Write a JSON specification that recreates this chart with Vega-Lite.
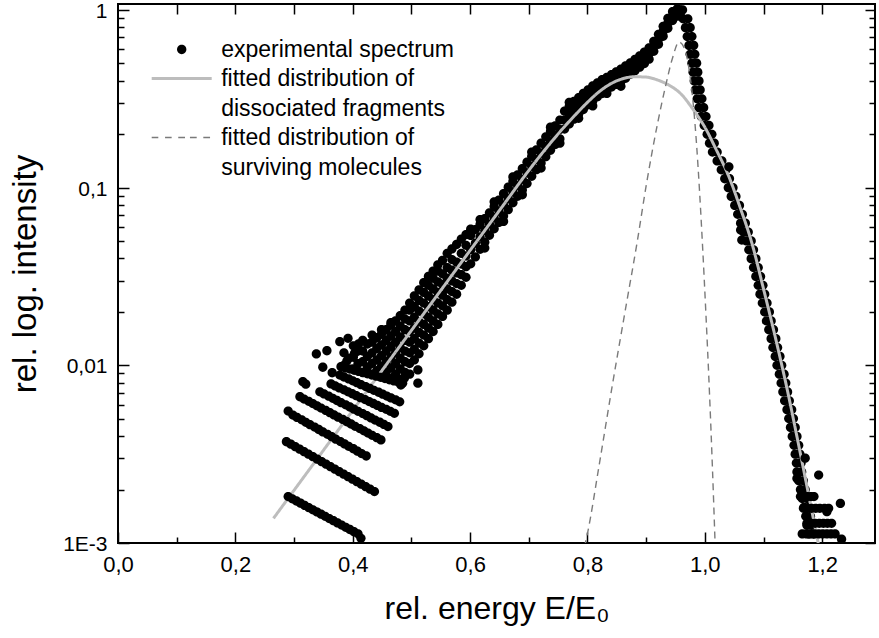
{
  "$schema": "https://vega.github.io/schema/vega-lite/v6.json",
  "width": 757,
  "height": 539,
  "autosize": {"type": "none"},
  "padding": {"left": 118, "top": 4, "right": 4, "bottom": 95},
  "background": "white",
  "config": {
    "font": "Liberation Sans",
    "view": {"stroke": "black", "strokeWidth": 2},
    "style": {"guide-label": {"lineHeight": 30}},
    "axis": {"domain": false, "grid": false, "tickColor": "black", "tickWidth": 1.5, "labelColor": "black", "labelFont": "Liberation Sans", "labelFontSize": 22, "titleFont": "Liberation Sans", "titleFontWeight": "normal", "titleColor": "black", "titleFontSize": 32, "labelFlush": false, "labelOverlap": false}
  },
  "datasets": {
    "band": [
      {"x":0.385,"y":0.01},{"x":0.385,"y":0.01175},
      {"x":0.393,"y":0.01096},
      {"x":0.401,"y":0.00955},{"x":0.401,"y":0.01109},{"x":0.401,"y":0.01288},
      {"x":0.409,"y":0.01023},{"x":0.409,"y":0.01202},
      {"x":0.417,"y":0.00912},{"x":0.417,"y":0.01047},{"x":0.417,"y":0.01202},{"x":0.417,"y":0.0138},
      {"x":0.425,"y":0.00977},{"x":0.425,"y":0.01122},{"x":0.425,"y":0.01318},
      {"x":0.433,"y":0.00891},{"x":0.433,"y":0.01023},{"x":0.433,"y":0.01175},{"x":0.433,"y":0.01349},{"x":0.433,"y":0.01479},
      {"x":0.441,"y":0.00933},{"x":0.441,"y":0.01072},{"x":0.441,"y":0.01245},{"x":0.441,"y":0.01429},
      {"x":0.449,"y":0.00861},{"x":0.449,"y":0.00989},{"x":0.449,"y":0.01135},{"x":0.449,"y":0.01303},{"x":0.449,"y":0.01496},{"x":0.449,"y":0.01585},
      {"x":0.457,"y":0.00912},{"x":0.457,"y":0.01047},{"x":0.457,"y":0.01202},{"x":0.457,"y":0.0138},{"x":0.457,"y":0.01585},
      {"x":0.465,"y":0.00841},{"x":0.465,"y":0.00966},{"x":0.465,"y":0.01109},{"x":0.465,"y":0.01274},{"x":0.465,"y":0.01462},{"x":0.465,"y":0.01679},{"x":0.465,"y":0.01738},
      {"x":0.473,"y":0.00891},{"x":0.473,"y":0.01023},{"x":0.473,"y":0.01175},{"x":0.473,"y":0.01349},{"x":0.473,"y":0.01549},{"x":0.473,"y":0.01778},
      {"x":0.481,"y":0.00832},{"x":0.481,"y":0.00955},{"x":0.481,"y":0.01096},{"x":0.481,"y":0.01259},{"x":0.481,"y":0.01445},{"x":0.481,"y":0.0166},{"x":0.481,"y":0.01905},
      {"x":0.489,"y":0.00912},{"x":0.489,"y":0.01047},{"x":0.489,"y":0.01202},{"x":0.489,"y":0.0138},{"x":0.489,"y":0.01585},{"x":0.489,"y":0.0182},{"x":0.489,"y":0.02042},
      {"x":0.497,"y":0.00891},{"x":0.497,"y":0.01023},{"x":0.497,"y":0.01175},{"x":0.497,"y":0.01349},{"x":0.497,"y":0.01549},{"x":0.497,"y":0.01778},{"x":0.497,"y":0.02042},{"x":0.497,"y":0.02239},
      {"x":0.505,"y":0.01072},{"x":0.505,"y":0.0123},{"x":0.505,"y":0.01413},{"x":0.505,"y":0.01622},{"x":0.505,"y":0.01862},{"x":0.505,"y":0.02138},{"x":0.505,"y":0.02455},
      {"x":0.513,"y":0.01161},{"x":0.513,"y":0.01334},{"x":0.513,"y":0.01531},{"x":0.513,"y":0.01758},{"x":0.513,"y":0.02018},{"x":0.513,"y":0.02317},{"x":0.513,"y":0.02661},
      {"x":0.521,"y":0.01288},{"x":0.521,"y":0.01479},{"x":0.521,"y":0.01698},{"x":0.521,"y":0.0195},{"x":0.521,"y":0.02239},{"x":0.521,"y":0.0257},{"x":0.521,"y":0.02917},
      {"x":0.529,"y":0.01413},{"x":0.529,"y":0.01622},{"x":0.529,"y":0.01862},{"x":0.529,"y":0.02138},{"x":0.529,"y":0.02455},{"x":0.529,"y":0.02818},{"x":0.529,"y":0.03162},
      {"x":0.537,"y":0.01549},{"x":0.537,"y":0.01778},{"x":0.537,"y":0.02042},{"x":0.537,"y":0.02344},{"x":0.537,"y":0.02692},{"x":0.537,"y":0.0309},{"x":0.537,"y":0.03388},
      {"x":0.545,"y":0.01698},{"x":0.545,"y":0.0195},{"x":0.545,"y":0.02239},{"x":0.545,"y":0.0257},{"x":0.545,"y":0.02951},{"x":0.545,"y":0.03388},{"x":0.545,"y":0.03673},
      {"x":0.553,"y":0.01884},{"x":0.553,"y":0.02163},{"x":0.553,"y":0.02483},{"x":0.553,"y":0.02851},{"x":0.553,"y":0.03273},{"x":0.553,"y":0.0389},
      {"x":0.561,"y":0.02042},{"x":0.561,"y":0.02344},{"x":0.561,"y":0.02692},{"x":0.561,"y":0.0309},{"x":0.561,"y":0.03548},{"x":0.561,"y":0.04266},
      {"x":0.569,"y":0.02265},{"x":0.569,"y":0.026},{"x":0.569,"y":0.02985},{"x":0.569,"y":0.03428},{"x":0.569,"y":0.03936},{"x":0.569,"y":0.04519},
      {"x":0.577,"y":0.02512},{"x":0.577,"y":0.02884},{"x":0.577,"y":0.03311},{"x":0.577,"y":0.03802},{"x":0.577,"y":0.04786},
      {"x":0.585,"y":0.02818},{"x":0.585,"y":0.03236},{"x":0.585,"y":0.03715},{"x":0.585,"y":0.04266},{"x":0.585,"y":0.05129},
      {"x":0.593,"y":0.03126},{"x":0.593,"y":0.03589},{"x":0.593,"y":0.04121},{"x":0.593,"y":0.04732},{"x":0.593,"y":0.05433},
      {"x":0.601,"y":0.03724},{"x":0.601,"y":0.04477},{"x":0.601,"y":0.05383},{"x":0.601,"y":0.05834},
      {"x":0.609,"y":0.04074},{"x":0.609,"y":0.04864},{"x":0.609,"y":0.05808},
      {"x":0.617,"y":0.04498},{"x":0.617,"y":0.05284},{"x":0.617,"y":0.06209},{"x":0.617,"y":0.06607},
      {"x":0.625,"y":0.04932},{"x":0.625,"y":0.05741},{"x":0.625,"y":0.06683},{"x":0.625,"y":0.04571},
      {"x":0.633,"y":0.05395},{"x":0.633,"y":0.06237},{"x":0.633,"y":0.07211},
      {"x":0.641,"y":0.05861},{"x":0.641,"y":0.06776},{"x":0.641,"y":0.07834},{"x":0.641,"y":0.08318},
      {"x":0.649,"y":0.06368},{"x":0.649,"y":0.07362},{"x":0.649,"y":0.08511},
      {"x":0.657,"y":0.06918},{"x":0.657,"y":0.07998},{"x":0.657,"y":0.09247},{"x":0.657,"y":0.06457},
      {"x":0.665,"y":0.07516},{"x":0.665,"y":0.0869},{"x":0.665,"y":0.1005},
      {"x":0.673,"y":0.08222},{"x":0.673,"y":0.09441},{"x":0.673,"y":0.1084},{"x":0.673,"y":0.1148},
      {"x":0.681,"y":0.08933},{"x":0.681,"y":0.1026},{"x":0.681,"y":0.1178},
      {"x":0.689,"y":0.09705},{"x":0.689,"y":0.1114},{"x":0.689,"y":0.1279},{"x":0.689,"y":0.0912},
      {"x":0.697,"y":0.1054},{"x":0.697,"y":0.1211},{"x":0.697,"y":0.139},
      {"x":0.705,"y":0.1159},{"x":0.705,"y":0.1318},{"x":0.705,"y":0.15},{"x":0.705,"y":0.1585},
      {"x":0.713,"y":0.1262},{"x":0.713,"y":0.1435},{"x":0.713,"y":0.1633},
      {"x":0.721,"y":0.1374},{"x":0.721,"y":0.1563},{"x":0.721,"y":0.1778},{"x":0.721,"y":0.1288},
      {"x":0.729,"y":0.1493},{"x":0.729,"y":0.1698},{"x":0.729,"y":0.1932},
      {"x":0.737,"y":0.1622},{"x":0.737,"y":0.1832},{"x":0.737,"y":0.207},{"x":0.737,"y":0.2188},
      {"x":0.745,"y":0.1746},{"x":0.745,"y":0.1972},{"x":0.745,"y":0.2228},
      {"x":0.753,"y":0.1879},{"x":0.753,"y":0.2123},{"x":0.753,"y":0.2399},{"x":0.753,"y":0.1778},
      {"x":0.761,"y":0.2138},{"x":0.761,"y":0.2399},{"x":0.761,"y":0.2692},
      {"x":0.769,"y":0.228},{"x":0.769,"y":0.2559},{"x":0.769,"y":0.2871},{"x":0.769,"y":0.302},
      {"x":0.777,"y":0.2427},{"x":0.777,"y":0.2723},{"x":0.777,"y":0.3055},
      {"x":0.785,"y":0.2594},{"x":0.785,"y":0.2884},{"x":0.785,"y":0.3206},{"x":0.785,"y":0.2455},
      {"x":0.793,"y":0.2748},{"x":0.793,"y":0.3055},{"x":0.793,"y":0.3396},
      {"x":0.801,"y":0.2924},{"x":0.801,"y":0.3221},{"x":0.801,"y":0.3548},
      {"x":0.809,"y":0.3076},{"x":0.809,"y":0.3388},{"x":0.809,"y":0.3733},{"x":0.809,"y":0.2884},
      {"x":0.817,"y":0.3243},{"x":0.817,"y":0.3548},{"x":0.817,"y":0.3882},
      {"x":0.825,"y":0.3381},{"x":0.825,"y":0.3698},{"x":0.825,"y":0.4046},
      {"x":0.833,"y":0.3548},{"x":0.833,"y":0.3846},{"x":0.833,"y":0.4169},{"x":0.833,"y":0.3388},
      {"x":0.841,"y":0.3681},{"x":0.841,"y":0.399},{"x":0.841,"y":0.4325},
      {"x":0.849,"y":0.3811},{"x":0.849,"y":0.413},{"x":0.849,"y":0.4477},
      {"x":0.857,"y":0.3954},{"x":0.857,"y":0.4285},{"x":0.857,"y":0.4645},{"x":0.857,"y":0.3715},
      {"x":0.865,"y":0.4121},{"x":0.865,"y":0.4467},{"x":0.865,"y":0.4842},
      {"x":0.873,"y":0.4345},{"x":0.873,"y":0.4677},{"x":0.873,"y":0.5035},
      {"x":0.881,"y":0.455},{"x":0.881,"y":0.4898},{"x":0.881,"y":0.5272},
      {"x":0.889,"y":0.4764},{"x":0.889,"y":0.5129},{"x":0.889,"y":0.5521},
      {"x":0.897,"y":0.4989},{"x":0.897,"y":0.537},{"x":0.897,"y":0.5781},
      {"x":0.905,"y":0.5284},{"x":0.905,"y":0.5689},{"x":0.905,"y":0.6124},
      {"x":0.913,"y":0.5848},{"x":0.913,"y":0.6237},{"x":0.913,"y":0.6653},
      {"x":0.921,"y":0.6412},{"x":0.921,"y":0.6839},{"x":0.921,"y":0.7295},
      {"x":0.929,"y":0.7112},{"x":0.929,"y":0.7586},{"x":0.929,"y":0.8091},
      {"x":0.937,"y":0.7889},{"x":0.937,"y":0.8414},{"x":0.937,"y":0.8974},
      {"x":0.945,"y":0.871},{"x":0.945,"y":0.9226},{"x":0.945,"y":0.9772},
      {"x":0.953,"y":0.9226},{"x":0.953,"y":0.9772},{"x":0.953,"y":1.012},
      {"x":0.958,"y":1.0},{"x":0.958,"y":0.9333},
      {"x":0.954,"y":1.0},{"x":0.962,"y":1.0},
      {"x":0.963,"y":0.8913},{"x":0.971,"y":0.8913},
      {"x":0.967,"y":0.7943},{"x":0.975,"y":0.7943},
      {"x":0.970,"y":0.7079},{"x":0.978,"y":0.7079},
      {"x":0.973,"y":0.631},{"x":0.981,"y":0.631},
      {"x":0.975,"y":0.5623},{"x":0.983,"y":0.5623},
      {"x":0.978,"y":0.5012},{"x":0.986,"y":0.5012},
      {"x":0.980,"y":0.4467},{"x":0.988,"y":0.4467},
      {"x":0.982,"y":0.3981},{"x":0.990,"y":0.3981},
      {"x":0.984,"y":0.3548},{"x":0.992,"y":0.3548},
      {"x":0.987,"y":0.3162},{"x":0.995,"y":0.3162},
      {"x":0.990,"y":0.2818},{"x":0.998,"y":0.2818},
      {"x":0.994,"y":0.2512},{"x":1.002,"y":0.2512},
      {"x":0.999,"y":0.2239},{"x":1.007,"y":0.2239},
      {"x":1.004,"y":0.1995},{"x":1.012,"y":0.1995},
      {"x":1.008,"y":0.1778},{"x":1.016,"y":0.1778},
      {"x":1.013,"y":0.1585},{"x":1.021,"y":0.1585},
      {"x":1.021,"y":0.1413},{"x":1.029,"y":0.1413},
      {"x":1.028,"y":0.1259},{"x":1.036,"y":0.1259},
      {"x":1.034,"y":0.1122},{"x":1.042,"y":0.1122},
      {"x":1.040,"y":0.1},{"x":1.048,"y":0.1},
      {"x":1.045,"y":0.08913},{"x":1.053,"y":0.08913},
      {"x":1.051,"y":0.07943},{"x":1.059,"y":0.07943},
      {"x":1.056,"y":0.07079},{"x":1.064,"y":0.07079},
      {"x":1.061,"y":0.0631},{"x":1.069,"y":0.0631},
      {"x":1.066,"y":0.05623},{"x":1.074,"y":0.05623},
      {"x":1.071,"y":0.05012},{"x":1.079,"y":0.05012},
      {"x":1.075,"y":0.04467},{"x":1.083,"y":0.04467},
      {"x":1.079,"y":0.03981},{"x":1.087,"y":0.03981},
      {"x":1.083,"y":0.03548},{"x":1.091,"y":0.03548},
      {"x":1.087,"y":0.03162},{"x":1.095,"y":0.03162},
      {"x":1.091,"y":0.02818},{"x":1.099,"y":0.02818},
      {"x":1.094,"y":0.02512},{"x":1.102,"y":0.02512},
      {"x":1.098,"y":0.02239},{"x":1.106,"y":0.02239},
      {"x":1.102,"y":0.01995},{"x":1.110,"y":0.01995},
      {"x":1.105,"y":0.01778},{"x":1.113,"y":0.01778},
      {"x":1.109,"y":0.01585},{"x":1.117,"y":0.01585},
      {"x":1.113,"y":0.01413},{"x":1.121,"y":0.01413},
      {"x":1.116,"y":0.01259},{"x":1.124,"y":0.01259},
      {"x":1.120,"y":0.01122},{"x":1.128,"y":0.01122},
      {"x":1.123,"y":0.01},{"x":1.131,"y":0.01},
      {"x":1.127,"y":0.008913},{"x":1.135,"y":0.008913},
      {"x":1.130,"y":0.007943},{"x":1.138,"y":0.007943},
      {"x":1.133,"y":0.007079},{"x":1.141,"y":0.007079},
      {"x":1.136,"y":0.00631},{"x":1.144,"y":0.00631},
      {"x":1.140,"y":0.005623},{"x":1.148,"y":0.005623},
      {"x":1.143,"y":0.005012},{"x":1.151,"y":0.005012},
      {"x":1.146,"y":0.004467},{"x":1.154,"y":0.004467},
      {"x":1.149,"y":0.003981},{"x":1.157,"y":0.003981},
      {"x":1.152,"y":0.003548},{"x":1.160,"y":0.003548},
      {"x":1.154,"y":0.003162},{"x":1.162,"y":0.003162},
      {"x":1.156,"y":0.002818},{"x":1.164,"y":0.002818},
      {"x":1.157,"y":0.002512},{"x":1.165,"y":0.002512},
      {"x":1.160,"y":0.002239},{"x":1.168,"y":0.002239},
      {"x":1.163,"y":0.001995},{"x":1.171,"y":0.001995},
      {"x":1.166,"y":0.001778},{"x":1.174,"y":0.001778},
      {"x":1.169,"y":0.001585},{"x":1.177,"y":0.001585},
      {"x":1.172,"y":0.001413},{"x":1.180,"y":0.001413},
      {"x":1.174,"y":0.001259},{"x":1.182,"y":0.001259},
      {"x":1.177,"y":0.001122},{"x":1.185,"y":0.001122}
    ],
    "streaks": [
      {"x":0.290,"y":0.001824},{"x":0.297,"y":0.001773},{"x":0.304,"y":0.001723},{"x":0.311,"y":0.001675},{"x":0.318,"y":0.001628},{"x":0.325,"y":0.001583},{"x":0.332,"y":0.001538},{"x":0.339,"y":0.001495},{"x":0.346,"y":0.001453},{"x":0.353,"y":0.001413},{"x":0.360,"y":0.001373},{"x":0.367,"y":0.001335},{"x":0.374,"y":0.001297},{"x":0.381,"y":0.001261},{"x":0.388,"y":0.001226},{"x":0.395,"y":0.001191},{"x":0.402,"y":0.001158},{"x":0.409,"y":0.001126},{"x":0.414,"y":0.001062},
      {"x":0.287,"y":0.003715},{"x":0.2945,"y":0.003597},{"x":0.302,"y":0.003483},{"x":0.3095,"y":0.003372},{"x":0.317,"y":0.003265},{"x":0.3245,"y":0.003161},{"x":0.332,"y":0.00306},{"x":0.3395,"y":0.002963},{"x":0.347,"y":0.002869},{"x":0.3545,"y":0.002777},{"x":0.362,"y":0.002689},{"x":0.3695,"y":0.002603},{"x":0.377,"y":0.002521},{"x":0.3845,"y":0.00244},{"x":0.392,"y":0.002363},{"x":0.3995,"y":0.002288},{"x":0.407,"y":0.002215},{"x":0.4145,"y":0.002144},{"x":0.422,"y":0.002076},{"x":0.4295,"y":0.00201},{"x":0.437,"y":0.001946},
      {"x":0.298,"y":0.005248},{"x":0.305,"y":0.005087},{"x":0.313,"y":0.004931},{"x":0.320,"y":0.004779},{"x":0.327,"y":0.004633},{"x":0.335,"y":0.00449},{"x":0.342,"y":0.004352},{"x":0.349,"y":0.004219},{"x":0.357,"y":0.004089},{"x":0.364,"y":0.003964},{"x":0.371,"y":0.003842},{"x":0.379,"y":0.003724},{"x":0.386,"y":0.00361},{"x":0.393,"y":0.003499},{"x":0.401,"y":0.003391},{"x":0.408,"y":0.003287},{"x":0.415,"y":0.003186},{"x":0.423,"y":0.003088},
      {"x":0.310,"y":0.006653},{"x":0.317,"y":0.00646},{"x":0.325,"y":0.006273},{"x":0.332,"y":0.006091},{"x":0.339,"y":0.005914},{"x":0.346,"y":0.005743},{"x":0.354,"y":0.005576},{"x":0.361,"y":0.005414},{"x":0.368,"y":0.005257},{"x":0.375,"y":0.005105},{"x":0.383,"y":0.004957},{"x":0.390,"y":0.004813},{"x":0.397,"y":0.004673},{"x":0.404,"y":0.004538},{"x":0.412,"y":0.004406},{"x":0.419,"y":0.004278},{"x":0.426,"y":0.004154},{"x":0.433,"y":0.004034},{"x":0.441,"y":0.003917},{"x":0.448,"y":0.003803},
      {"x":0.344,"y":0.007096},{"x":0.351,"y":0.006899},{"x":0.359,"y":0.006707},{"x":0.366,"y":0.006521},{"x":0.373,"y":0.006339},{"x":0.380,"y":0.006163},{"x":0.388,"y":0.005992},{"x":0.395,"y":0.005825},{"x":0.402,"y":0.005663},{"x":0.409,"y":0.005506},{"x":0.417,"y":0.005353},{"x":0.424,"y":0.005204},{"x":0.431,"y":0.005059},{"x":0.438,"y":0.004919},{"x":0.446,"y":0.004782},{"x":0.453,"y":0.004649},{"x":0.460,"y":0.00452},
      {"x":0.363,"y":0.007852},{"x":0.370,"y":0.007656},{"x":0.377,"y":0.007464},{"x":0.385,"y":0.007278},{"x":0.392,"y":0.007096},{"x":0.399,"y":0.006918},{"x":0.406,"y":0.006745},{"x":0.413,"y":0.006577},{"x":0.421,"y":0.006412},{"x":0.428,"y":0.006252},{"x":0.435,"y":0.006096},{"x":0.442,"y":0.005943},{"x":0.449,"y":0.005795},{"x":0.457,"y":0.00565},{"x":0.464,"y":0.005509},{"x":0.471,"y":0.005371},
      {"x":0.378,"y":0.00881},{"x":0.385,"y":0.008595},{"x":0.393,"y":0.008385},{"x":0.400,"y":0.008181},{"x":0.407,"y":0.007981},{"x":0.414,"y":0.007786},{"x":0.422,"y":0.007596},{"x":0.429,"y":0.007411},{"x":0.436,"y":0.00723},{"x":0.444,"y":0.007054},{"x":0.451,"y":0.006882},{"x":0.458,"y":0.006714},{"x":0.465,"y":0.00655},{"x":0.473,"y":0.00639},{"x":0.480,"y":0.006234},
      {"x":0.380,"y":0.009817},{"x":0.3875,"y":0.009668},{"x":0.395,"y":0.009521},{"x":0.4025,"y":0.009376},{"x":0.410,"y":0.009234},{"x":0.4175,"y":0.009093},{"x":0.425,"y":0.008955},{"x":0.4325,"y":0.008819},{"x":0.440,"y":0.008685},{"x":0.4475,"y":0.008553},{"x":0.455,"y":0.008423},{"x":0.4625,"y":0.008295},{"x":0.470,"y":0.008169},{"x":0.4775,"y":0.008045},{"x":0.485,"y":0.007923},
      {"x":0.315,"y":0.00809},{"x":0.320,"y":0.00783},
      {"x":0.338,"y":0.01159},{"x":0.356,"y":0.01208},{"x":0.378,"y":0.01358},{"x":0.392,"y":0.01419},{"x":0.349,"y":0.00975},{"x":0.365,"y":0.00908},{"x":0.410,"y":0.01318},{"x":0.390,"y":0.01057},{"x":0.403,"y":0.01167},{"x":0.290,"y":0.00553},{"x":0.511,"y":0.00942},{"x":0.511,"y":0.00793},{"x":0.488,"y":0.00845},{"x":0.482,"y":0.00774},
      {"x":1.041,"y":0.131},{"x":1.061,"y":0.0577},{"x":1.063,"y":0.0507},{"x":1.171,"y":0.003},{"x":1.157,"y":0.00231},{"x":1.194,"y":0.00241},{"x":1.231,"y":0.00167},{"x":1.233,"y":0.00105},{"x":1.208,"y":0.0015},
      {"x":1.163,"y":0.001824},{"x":1.169,"y":0.001824},{"x":1.175,"y":0.001824},{"x":1.181,"y":0.001824},{"x":1.186,"y":0.001824},
      {"x":1.168,"y":0.001567},{"x":1.175,"y":0.001567},{"x":1.182,"y":0.001567},{"x":1.189,"y":0.001567},{"x":1.196,"y":0.001567},{"x":1.204,"y":0.001567},{"x":1.211,"y":0.001567},
      {"x":1.174,"y":0.001291},{"x":1.181,"y":0.001291},{"x":1.188,"y":0.001291},{"x":1.195,"y":0.001291},{"x":1.202,"y":0.001291},{"x":1.209,"y":0.001291},{"x":1.216,"y":0.001291},
      {"x":1.166,"y":0.001125},{"x":1.173,"y":0.001125},{"x":1.180,"y":0.001125},{"x":1.187,"y":0.001125},{"x":1.194,"y":0.001125},{"x":1.201,"y":0.001125},{"x":1.208,"y":0.001125},{"x":1.215,"y":0.001125},{"x":1.222,"y":0.001125}
    ],
    "frag": [
      {"x":0.265,"y":0.001377},{"x":0.30,"y":0.001979},{"x":0.35,"y":0.003322},{"x":0.40,"y":0.005578},{"x":0.45,"y":0.009364},{"x":0.50,"y":0.01572},{"x":0.55,"y":0.02639},{"x":0.60,"y":0.04431},{"x":0.65,"y":0.07437},{"x":0.70,"y":0.1249},{"x":0.72,"y":0.1521},{"x":0.74,"y":0.1832},{"x":0.76,"y":0.2188},{"x":0.78,"y":0.2582},{"x":0.80,"y":0.302},{"x":0.82,"y":0.3467},{"x":0.84,"y":0.3846},{"x":0.86,"y":0.4102},{"x":0.88,"y":0.4207},{"x":0.90,"y":0.4188},{"x":0.92,"y":0.4027},{"x":0.94,"y":0.3758},{"x":0.96,"y":0.335},{"x":0.98,"y":0.2754},{"x":1.00,"y":0.2188},{"x":1.02,"y":0.1622},{"x":1.04,"y":0.1175},{"x":1.06,"y":0.07762},{"x":1.08,"y":0.04898},{"x":1.10,"y":0.02692},{"x":1.12,"y":0.01445},{"x":1.14,"y":0.007413},{"x":1.16,"y":0.003548},{"x":1.18,"y":0.00166},{"x":1.195,"y":0.000933}
    ],
    "surv": [
      {"x":0.795,"y":0.00095},{"x":0.80,"y":0.00113},{"x":0.82,"y":0.00275},{"x":0.842,"y":0.00759},{"x":0.865,"y":0.0209},{"x":0.885,"y":0.0501},{"x":0.90,"y":0.1023},{"x":0.92,"y":0.2344},{"x":0.933,"y":0.3715},{"x":0.945,"y":0.537},{"x":0.956,"y":0.661},{"x":0.965,"y":0.61},{"x":0.973,"y":0.468},{"x":0.98,"y":0.302},{"x":0.986,"y":0.1738},{"x":0.991,"y":0.0955},{"x":0.996,"y":0.0479},{"x":1.002,"y":0.01905},{"x":1.008,"y":0.00692},{"x":1.013,"y":0.00263},{"x":1.018,"y":0.00089}
    ]
  },
  "layer": [
    {
      "data": {"name": "band"},
      "mark": {"type": "point", "filled": true, "opacity": 1, "size": 900, "clip": true},
      "encoding": {
        "x": {"field": "x", "type": "quantitative", "scale": {"domain": [0, 1.29], "nice": false, "zero": false},
              "axis": {"orient": "bottom", "values": [0, 0.2, 0.4, 0.6, 0.8, 1.0, 1.2], "tickSize": -11, "labelPadding": 22, "labelExpr": "replace(format(datum.value, '.1f'), '.', ',')", "title": "rel. energy E/E₀", "titlePadding": 18}},
        "y": {"field": "y", "type": "quantitative", "scale": {"type": "log", "domain": [0.001, 1.08], "nice": false},
              "axis": {"orient": "left", "values": [0.001, 0.01, 0.1, 1], "tickSize": -11, "labelPadding": 22, "labelFontSize": 21, "labelOffset": 1.5, "labelExpr": "datum.value < 0.005 ? '1E-3' : datum.value < 0.05 ? '0,01' : datum.value < 0.5 ? '0,1' : '1'", "title": "rel. log. intensity", "titleFontSize": 33, "titlePadding": 20}},
        "color": {"datum": "exp", "type": "nominal", "scale": {"domain": ["exp", "frag", "surv"], "range": ["black", "#bdbdbd", "#7a7a7a"]},
                  "legend": {"orient": "none", "legendX": 48.7, "legendY": 30.5, "title": null, "padding": 0, "labelFont": "Liberation Sans", "labelFontSize": 23, "labelColor": "black", "labelLimit": 0, "labelOffset": 24.5, "rowPadding": 2, "symbolSize": 900, "symbolStrokeWidth": 0,
                             "labelExpr": "datum.value == 'exp' ? 'experimental spectrum' : datum.value == 'frag' ? ['fitted distribution of', 'dissociated fragments'] : ['fitted distribution of', 'surviving molecules']",
                             "encode": {"labels": {"lineHeight": {"value": 30}}}}},
        "shape": {"datum": "exp", "type": "nominal", "scale": {"domain": ["exp", "frag", "surv"], "range": ["M-0.31,0A0.31,0.31,0,1,1,0.31,0A0.31,0.31,0,1,1,-0.31,0Z", "M-2,-0.1H2V0.1H-2Z", "M-2,-0.045H-1.56V0.045H-2ZM-1.11,-0.045H-0.67V0.045H-1.11ZM-0.23,-0.045H0.22V0.045H-0.23ZM0.55,-0.045H1.0V0.045H0.55ZM1.44,-0.045H1.89V0.045H1.44Z"]}}
      }
    },
    {
      "data": {"name": "frag"},
      "mark": {"type": "line", "interpolate": "monotone", "strokeWidth": 3, "clip": true},
      "encoding": {
        "x": {"field": "x", "type": "quantitative", "axis": {"orient": "bottom", "values": [0.1, 0.3, 0.5, 0.7, 0.9, 1.1], "tickSize": -6, "labels": false, "title": null}},
        "y": {"field": "y", "type": "quantitative", "axis": {"orient": "left", "values": [0.002, 0.003, 0.004, 0.005, 0.006, 0.007, 0.008, 0.009, 0.02, 0.03, 0.04, 0.05, 0.06, 0.07, 0.08, 0.09, 0.2, 0.3, 0.4, 0.5, 0.6, 0.7, 0.8, 0.9], "tickSize": -6, "labels": false, "title": null}},
        "color": {"datum": "frag", "type": "nominal"},
        "strokeDash": {"datum": "frag", "type": "nominal", "scale": {"domain": ["exp", "frag", "surv"], "range": [[1, 0], [1, 0], [7, 5]]}}
      }
    },
    {
      "data": {"name": "surv"},
      "mark": {"type": "line", "interpolate": "monotone", "strokeWidth": 1.4, "clip": true},
      "encoding": {
        "x": {"field": "x", "type": "quantitative", "axis": {"orient": "top", "values": [0.1, 0.2, 0.3, 0.4, 0.5, 0.6, 0.7, 0.8, 0.9, 1.0, 1.1, 1.2], "tickSize": -10, "labels": false, "title": null}},
        "y": {"field": "y", "type": "quantitative", "axis": {"orient": "right", "values": [0.001, 0.01, 0.1, 1], "tickSize": -10, "labels": false, "title": null}},
        "color": {"datum": "surv", "type": "nominal"},
        "strokeDash": {"datum": "surv", "type": "nominal"}
      }
    },
    {
      "data": {"name": "streaks"},
      "mark": {"type": "point", "filled": true, "opacity": 1, "size": 900, "clip": true},
      "encoding": {
        "x": {"field": "x", "type": "quantitative", "axis": null},
        "y": {"field": "y", "type": "quantitative", "axis": {"orient": "right", "values": [0.002, 0.003, 0.004, 0.005, 0.006, 0.007, 0.008, 0.009, 0.02, 0.03, 0.04, 0.05, 0.06, 0.07, 0.08, 0.09, 0.2, 0.3, 0.4, 0.5, 0.6, 0.7, 0.8, 0.9], "tickSize": -6, "labels": false, "title": null}},
        "color": {"datum": "exp", "type": "nominal"},
        "shape": {"datum": "exp", "type": "nominal"}
      }
    }
  ],
  "resolve": {"axis": {"x": "independent", "y": "independent"}}
}
